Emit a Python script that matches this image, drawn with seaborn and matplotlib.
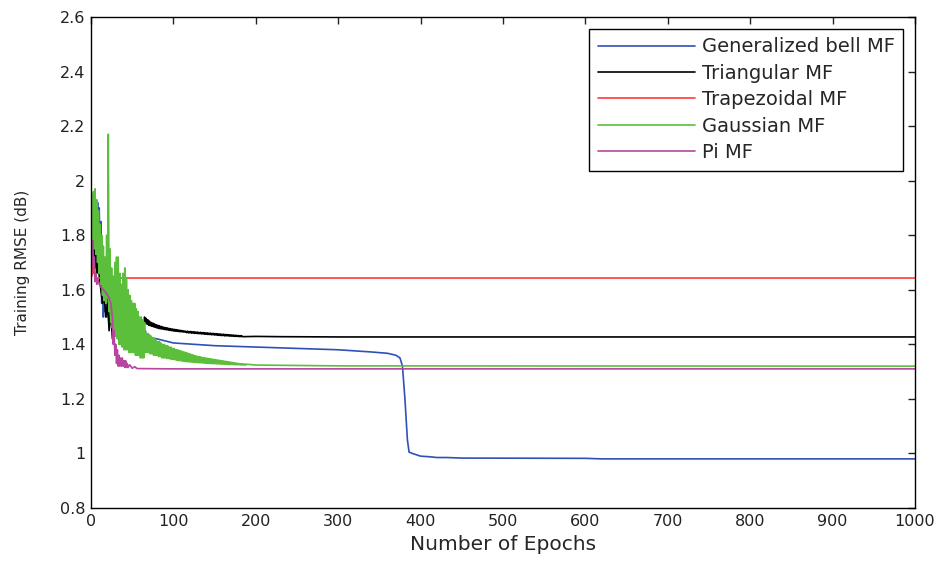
import numpy as np
import pandas as pd
import matplotlib
matplotlib.use("Agg")
import matplotlib.pyplot as plt
import seaborn as sns

# Generalized bell MF
bell_epochs = [0, 2, 4, 5, 6, 7, 8, 9, 10, 11, 12, 13, 14, 15, 16, 17, 18, 19, 20, 22, 24, 26, 28, 30,
               32, 35, 40, 45, 50, 55, 60, 64, 65, 66, 67, 70, 80, 100, 150, 200, 250, 300, 340, 360,
               370, 375, 378, 381, 384, 386, 390, 395, 400, 410, 420, 432, 450, 600, 620, 1000]
bell_rmse = [1.80, 1.70, 1.85, 1.72, 1.90, 1.75, 1.92, 1.78, 1.90, 1.70, 1.85, 1.55, 1.75, 1.50, 1.68,
             1.52, 1.62, 1.50, 1.58, 1.52, 1.48, 1.55, 1.47, 1.50, 1.46, 1.48, 1.46, 1.47, 1.45, 1.46,
             1.44, 1.44, 1.43, 1.45, 1.43, 1.425, 1.42, 1.405, 1.395, 1.39, 1.385, 1.38, 1.372, 1.367,
             1.36, 1.35, 1.32, 1.20, 1.05, 1.005, 1.0, 0.995, 0.99, 0.988, 0.985, 0.985, 0.983, 0.982,
             0.98, 0.98]

# Triangular MF
tri_epochs = ([0, 1, 2, 3, 4, 5, 6, 7, 8, 10, 12, 14, 16, 18, 20, 22, 24, 26, 28, 30, 35, 40, 45, 50,
               55, 60, 64] + list(range(65, 185)) + [200, 230, 300, 1000])
tri_rmse = [1.85, 1.68, 1.87, 1.70, 1.80, 1.68, 1.75, 1.66, 1.72, 1.65, 1.60, 1.55, 1.58, 1.50, 1.55,
            1.45, 1.52, 1.42, 1.50, 1.45, 1.47, 1.44, 1.46, 1.44, 1.45, 1.43, 1.43,
            1.50, 1.478, 1.495, 1.474, 1.49, 1.470, 1.485, 1.468, 1.48, 1.466,
            1.478, 1.464, 1.475, 1.462, 1.472, 1.460, 1.47, 1.458, 1.468, 1.457,
            1.466, 1.456, 1.464, 1.455, 1.462, 1.454, 1.461, 1.453, 1.46, 1.452,
            1.458, 1.451, 1.457, 1.450, 1.456, 1.449, 1.455, 1.448, 1.454, 1.448,
            1.453, 1.447, 1.452, 1.446, 1.451, 1.446, 1.45, 1.445, 1.449, 1.445,
            1.448, 1.443, 1.448, 1.442, 1.447, 1.442, 1.447, 1.441, 1.446, 1.441,
            1.446, 1.440, 1.445, 1.440, 1.445, 1.439, 1.444, 1.439, 1.444, 1.438,
            1.443, 1.438, 1.443, 1.437, 1.442, 1.437, 1.442, 1.436, 1.441, 1.436,
            1.441, 1.435, 1.440, 1.435, 1.440, 1.434, 1.439, 1.434, 1.439, 1.433,
            1.438, 1.433, 1.438, 1.432, 1.437, 1.432, 1.437, 1.431, 1.436, 1.431,
            1.436, 1.431, 1.435, 1.430, 1.435, 1.430, 1.434, 1.430, 1.434, 1.429,
            1.433, 1.429, 1.433, 1.429, 1.432, 1.428, 1.432, 1.428, 1.431, 1.428,
            1.429, 1.428, 1.427, 1.427]

# Trapezoidal MF
trap_epochs = [0, 1, 2, 3, 4, 5, 1000]
trap_rmse = [1.70, 1.65, 1.72, 1.66, 1.68, 1.643, 1.643]

# Gaussian MF
gauss_epochs = list(range(0, 190)) + [200, 236, 300, 1000]
gauss_rmse = [1.80, 1.95, 1.77, 1.96, 1.75, 1.97, 1.73, 1.93, 1.70, 1.89,
              1.66, 1.84, 1.62, 1.80, 1.58, 1.76, 1.56, 1.72, 1.55, 1.80,
              1.57, 2.17, 1.52, 1.75, 1.48, 1.68, 1.46, 1.65, 1.45, 1.70,
              1.43, 1.72, 1.42, 1.72, 1.40, 1.66, 1.40, 1.62, 1.39, 1.66,
              1.38, 1.68, 1.38, 1.64, 1.38, 1.60, 1.37, 1.58, 1.37, 1.56,
              1.37, 1.55, 1.37, 1.55, 1.36, 1.53, 1.36, 1.52, 1.36, 1.50,
              1.35, 1.50, 1.35, 1.49, 1.35, 1.48, 1.37, 1.44, 1.37, 1.44,
              1.37, 1.435, 1.365, 1.43, 1.365, 1.425, 1.36, 1.42, 1.36, 1.415,
              1.36, 1.41, 1.355, 1.41, 1.355, 1.405, 1.35, 1.40, 1.35, 1.40,
              1.35, 1.395, 1.348, 1.395, 1.348, 1.39, 1.346, 1.39, 1.345, 1.385,
              1.345, 1.385, 1.343, 1.38, 1.342, 1.38, 1.34, 1.378, 1.34, 1.376,
              1.339, 1.374, 1.338, 1.372, 1.337, 1.37, 1.336, 1.368, 1.336, 1.366,
              1.335, 1.364, 1.335, 1.362, 1.334, 1.36, 1.334, 1.358, 1.333, 1.356,
              1.333, 1.355, 1.332, 1.354, 1.332, 1.352, 1.331, 1.351, 1.331, 1.35,
              1.33, 1.349, 1.33, 1.348, 1.33, 1.347, 1.329, 1.346, 1.329, 1.345,
              1.329, 1.344, 1.328, 1.343, 1.328, 1.342, 1.328, 1.341, 1.327, 1.34,
              1.327, 1.339, 1.327, 1.338, 1.327, 1.337, 1.326, 1.336, 1.326, 1.335,
              1.326, 1.334, 1.326, 1.333, 1.325, 1.332, 1.325, 1.331, 1.325, 1.330,
              1.325, 1.329, 1.324, 1.329, 1.324, 1.328, 1.324, 1.328, 1.324, 1.327,
              1.324, 1.323, 1.321, 1.32]

# Pi MF
pi_epochs = [0, 1, 2, 3, 4, 5, 6, 7, 8, 10, 12, 15, 18, 20, 22, 24, 26, 27, 28, 29, 30, 31, 32, 33,
             34, 35, 36, 37, 38, 39, 40, 41, 42, 43, 44, 45, 47, 50, 53, 56, 60, 100, 1000]
pi_rmse = [1.75, 1.70, 1.78, 1.68, 1.72, 1.63, 1.66, 1.62, 1.64, 1.62, 1.61, 1.60, 1.59, 1.58, 1.57,
           1.55, 1.50, 1.40, 1.45, 1.36, 1.40, 1.33, 1.38, 1.32, 1.36, 1.32, 1.35, 1.32, 1.35, 1.32,
           1.34, 1.315, 1.34, 1.315, 1.33, 1.315, 1.325, 1.312, 1.318, 1.311, 1.311, 1.31, 1.31]

series = [
    ("Generalized bell MF", bell_epochs, bell_rmse, "#2f50b8"),
    ("Triangular MF", tri_epochs, tri_rmse, "#000000"),
    ("Trapezoidal MF", trap_epochs, trap_rmse, "#ff3b3b"),
    ("Gaussian MF", gauss_epochs, gauss_rmse, "#5cbf3c"),
    ("Pi MF", pi_epochs, pi_rmse, "#b8459f"),
]

sns.set_style("white")
plt.rcParams['font.family'] = ['DejaVu Sans']

fig = plt.figure(figsize=(9.42, 5.62), dpi=100)
ax = fig.add_axes([0.0966, 0.0961, 0.8747, 0.8737])

for name, ep, val, col in series:
    df = pd.DataFrame({"epoch": ep, "rmse": val})
    sns.lineplot(data=df, x="epoch", y="rmse", color=col, label=name, ax=ax,
                 estimator=None, sort=False, linewidth=1.2)

ax.set_xlim(0, 1000)
ax.set_ylim(0.8, 2.6)
ax.set_xticks(np.arange(0, 1001, 100))
ax.set_yticks(np.arange(0.8, 2.61, 0.2))
ax.set_yticklabels(["0.8", "1", "1.2", "1.4", "1.6", "1.8", "2", "2.2", "2.4", "2.6"])
ax.tick_params(direction="in", length=5, width=1, top=True, right=True,
               labelsize=11.5, colors="#222222", pad=4)
for s in ax.spines.values():
    s.set_visible(True)
    s.set_color("black")
    s.set_linewidth(1.0)

ax.set_xlabel("Number of Epochs", fontsize=14.5, labelpad=5)
ax.set_ylabel("Training RMSE (dB)", fontsize=11)
ax.yaxis.set_label_coords(-0.074, 0.5)

leg = ax.legend(loc="upper right", fontsize=14, handlelength=5.0, handletextpad=0.35,
                borderaxespad=0.6, labelspacing=0.38, fancybox=False, framealpha=1,
                edgecolor="black", borderpad=0.45)
leg.get_frame().set_linewidth(1.0)

fig.savefig("out.png", dpi=100)
